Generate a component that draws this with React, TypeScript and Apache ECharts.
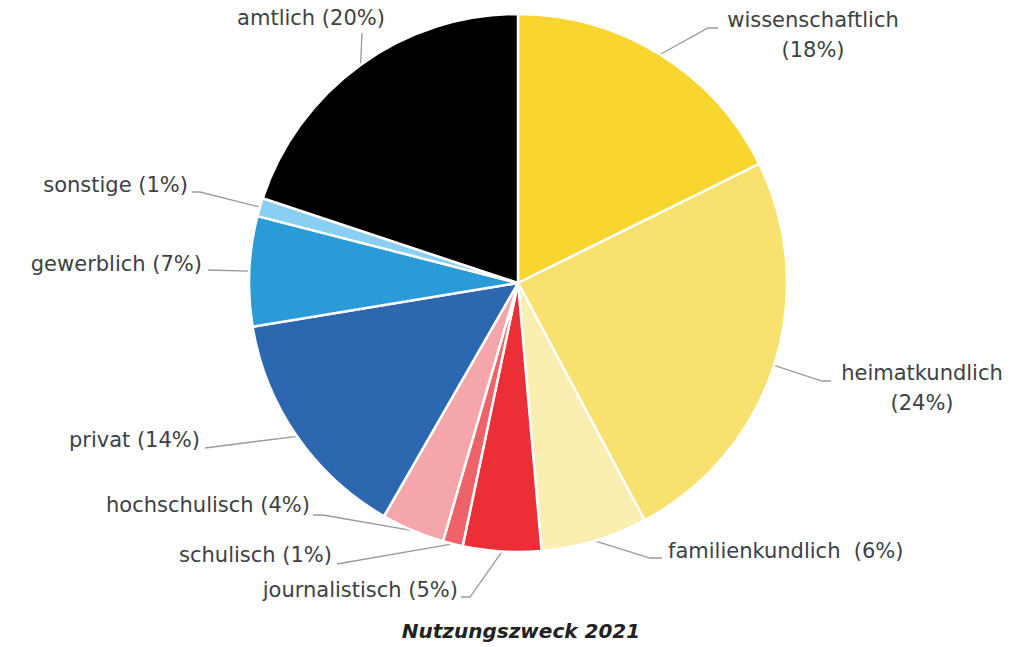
import React, { useEffect, useRef } from "react";
import * as echarts from "echarts";

const categories = [
  "wissenschaftlich",
  "heimatkundlich",
  "familienkundlich",
  "journalistisch",
  "schulisch",
  "hochschulisch",
  "privat",
  "gewerblich",
  "sonstige",
  "amtlich",
];
const shares = [17.7, 24.5, 6.4, 4.7, 1.2, 3.8, 14.1, 6.6, 1.1, 19.9];
const labelTexts = [
  "wissenschaftlich\n(18%)",
  "heimatkundlich\n(24%)",
  "familienkundlich  (6%)",
  "journalistisch (5%)",
  "schulisch (1%)",
  "hochschulisch (4%)",
  "privat (14%)",
  "gewerblich (7%)",
  "sonstige (1%)",
  "amtlich (20%)",
];
const colors = [
  "#F9D52F",
  "#F8E16E",
  "#FAEEB0",
  "#EC2F36",
  "#EE626A",
  "#F5A6AA",
  "#2D67B0",
  "#2B9BD8",
  "#88CFF3",
  "#000000",
];
const title = "Nutzungszweck 2021";

// label placement: text anchor, alignment, knee and end of leader line
const labelPlacement = [
  { x: 813, y: 35, align: "center", knee: [708, 28], end: [718, 28] },
  { x: 922, y: 388, align: "center", knee: [822, 381], end: [831, 381] },
  { x: 668, y: 551, align: "left", knee: [650, 558], end: [662, 558] },
  { x: 458, y: 590, align: "right", knee: [470, 597], end: [461, 597] },
  { x: 332, y: 555, align: "right", knee: [337, 564], end: [337, 564] },
  { x: 310, y: 505, align: "right", knee: [323, 515], end: [313, 515] },
  { x: 200, y: 440, align: "right", knee: [205, 448], end: [205, 448] },
  { x: 202, y: 264, align: "right", knee: [208, 270], end: [208, 270] },
  { x: 188, y: 185, align: "right", knee: [200, 192], end: [192, 192] },
  { x: 311, y: 18, align: "center", knee: [362, 33], end: [362, 33] },
];

export default function App() {
  const ref = useRef<HTMLDivElement>(null);
  useEffect(() => {
    document.body.style.margin = "0";
    if (!ref.current) return;
    const chart = echarts.init(ref.current, null, { renderer: "svg" });
    const cx = 518;
    const cy = 283;
    const r = 269;
    chart.setOption({
      animation: false,
      backgroundColor: "#ffffff",
      graphic: [
        {
          type: "text",
          x: 521,
          y: 631,
          style: {
            text: title,
            textAlign: "center",
            textVerticalAlign: "middle",
            fontFamily: "DejaVu Sans",
            fontSize: 20,
            fontWeight: "bold",
            fontStyle: "italic",
            fill: "#222222",
          },
        },
      ],
      series: [
        {
          type: "pie",
          center: [cx, cy],
          radius: [0, r],
          startAngle: 90,
          clockwise: true,
          avoidLabelOverlap: false,
          itemStyle: { borderColor: "#ffffff", borderWidth: 2.5 },
          label: {
            show: true,
            position: "outside",
            fontFamily: "DejaVu Sans",
            fontSize: 21,
            color: "#3c4146",
            lineHeight: 30,
            formatter: (p: any) => labelTexts[p.dataIndex],
          },
          labelLine: {
            show: true,
            length: 20,
            length2: 10,
            lineStyle: { color: "#9a9a9a", width: 1.3 },
          },
          labelLayout: (params: any) => {
            const i = params.dataIndex;
            const pl = labelPlacement[i];
            let start: number[];
            if (params.labelLinePoints && params.labelLinePoints[0]) {
              start = params.labelLinePoints[0];
            } else {
              start = [cx, cy];
            }
            return {
              x: pl.x,
              y: pl.y,
              align: pl.align,
              verticalAlign: "middle",
              labelLinePoints: [start, pl.knee, pl.end],
            };
          },
          emphasis: { disabled: true },
          data: categories.map((name, i) => ({
            name,
            value: shares[i],
            itemStyle: { color: colors[i] },
          })),
        },
      ],
    });
    return () => chart.dispose();
  }, []);
  return <div ref={ref} style={{ width: 1016, height: 647 }} />;
}
